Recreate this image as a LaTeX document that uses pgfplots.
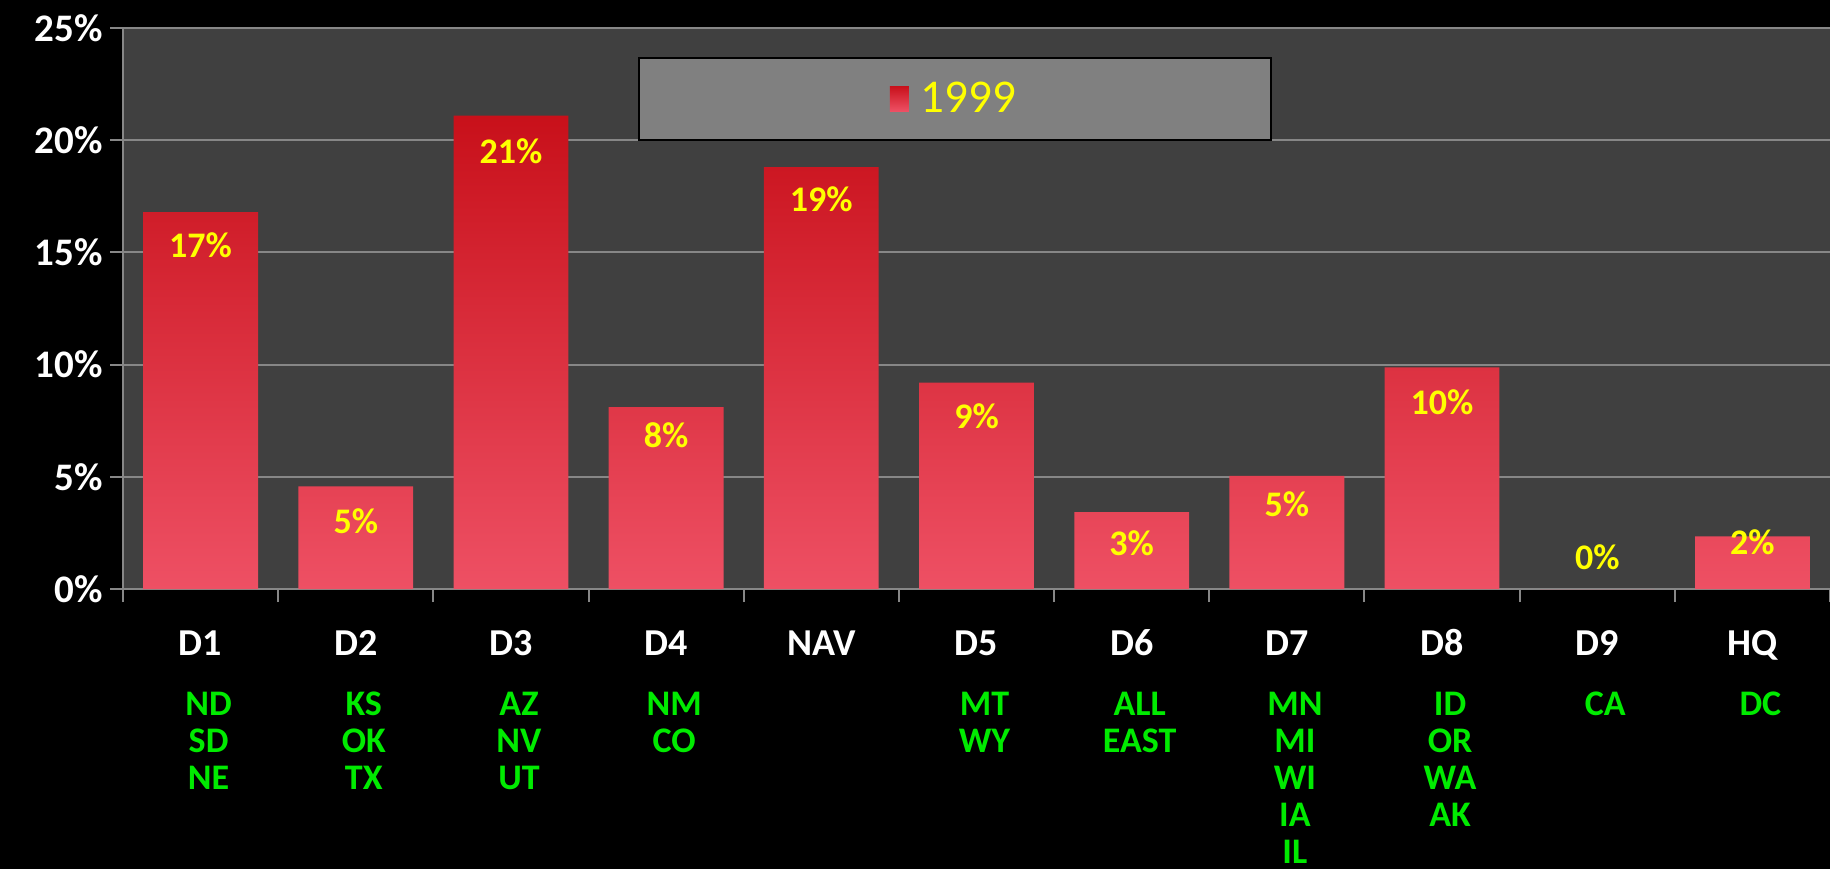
\documentclass[border=0pt]{standalone}
\usepackage{pgfplots}
\pgfplotsset{compat=1.18}
\usepackage{fontspec}
\setmainfont{Carlito}
\definecolor{plotbg}{RGB}{64,64,64}
\definecolor{gridc}{RGB}{135,135,135}
\definecolor{bartop}{RGB}{200,16,26}
\definecolor{barbot}{RGB}{238,80,100}
\definecolor{stategreen}{RGB}{0,235,0}
\definecolor{labyellow}{RGB}{255,255,0}
\definecolor{legbg}{RGB}{128,128,128}
\newcommand{\cat}[1]{\rule{0pt}{14pt}#1}
\newcommand{\st}[1]{{\color{stategreen}\fontsize{18}{18.5}\selectfont\hspace*{8pt}#1}}
\pgfplotstableread{
x y ly lab
0 16.8 15.30 17
1 4.57 3.00 5
2 21.1 19.50 21
3 8.10 6.86 8
4 18.8 17.36 19
5 9.20 7.69 9
6 3.43 2.03 3
7 5.04 3.79 5
8 9.88 8.32 10
9 0.00 1.40 0
10 2.34 2.08 2
}\datatab
\begin{document}
\begin{tikzpicture}
\useasboundingbox (0,0) rectangle (915pt,434.5pt);
\fill[black] (0,0) rectangle (915pt,434.5pt);
\begin{axis}[
  at={(61.5pt,140pt)}, anchor=south west,
  width=853.5pt, height=280.5pt, scale only axis,
  xmin=-0.5, xmax=10.5, ymin=0, ymax=25,
  axis background/.style={fill=plotbg},
  axis x line*=bottom, axis y line*=left,
  axis line style={draw=gridc, line width=1pt, -},
  ytick={0,5,...,25},
  yticklabel={\pgfmathprintnumber{\tick}\%},
  /pgf/number format/assume math mode=true,
  ymajorgrids, grid style={draw=gridc, line width=1pt},
  tick align=outside,
  major tick length=6.5pt, minor tick length=6.5pt,
  ytick style={draw=gridc, line width=1pt},
  major x tick style={draw=none},
  minor x tick style={draw=gridc, line width=1pt},
  xtick={0,...,10},
  minor xtick={-0.5,0.5,...,10.5},
  xticklabels={
    {\cat{D1}\\[11.5pt]\st{ND}\\\st{SD}\\\st{NE}},
    {\cat{D2}\\[11.5pt]\st{KS}\\\st{OK}\\\st{TX}},
    {\cat{D3}\\[11.5pt]\st{AZ}\\\st{NV}\\\st{UT}},
    {\cat{D4}\\[11.5pt]\st{NM}\\\st{CO}},
    {\cat{NAV}},
    {\cat{D5}\\[11.5pt]\st{MT}\\\st{WY}},
    {\cat{D6}\\[11.5pt]\st{ALL}\\\st{EAST}},
    {\cat{D7}\\[11.5pt]\st{MN}\\\st{MI}\\\st{WI}\\\st{IA}\\\st{IL}},
    {\cat{D8}\\[11.5pt]\st{ID}\\\st{OR}\\\st{WA}\\\st{AK}},
    {\cat{D9}\\[11.5pt]\st{CA}},
    {\cat{HQ}\\[11.5pt]\st{DC}}},
  xticklabel style={align=center, anchor=north, text=white,
    font=\bfseries\fontsize{19}{18.5}\selectfont, yshift=-9pt},
  yticklabel style={text=white, font=\bfseries\fontsize{19.5}{20}\selectfont},
  legend style={at={(0.4874,0.8734)}, anchor=center, fill=legbg, draw=black,
    line width=1.2pt, inner xsep=125.5pt, inner ysep=10pt, text=labyellow,
    font=\fontsize{23.5}{24}\selectfont},
]
\addplot[ybar, bar width=0.74, draw=none, top color=bartop, bottom color=barbot,
  legend image code/.code={\fill[top color=bartop, bottom color=barbot] (0pt,-6pt) rectangle (9.5pt,6.5pt);}]
  table[x=x, y=y] {\datatab};
\addlegendentry{\hspace{4pt}1999}
\addplot[draw=none, mark=none, forget plot,
  nodes near coords={\pgfmathprintnumber[fixed,precision=0]{\pgfplotspointmeta}\%},
  point meta=explicit,
  nodes near coords style={anchor=center, text=labyellow, font=\bfseries\fontsize{18}{18}\selectfont}]
  table[x=x, y=ly, meta=lab] {\datatab};
\end{axis}
\end{tikzpicture}
\end{document}
